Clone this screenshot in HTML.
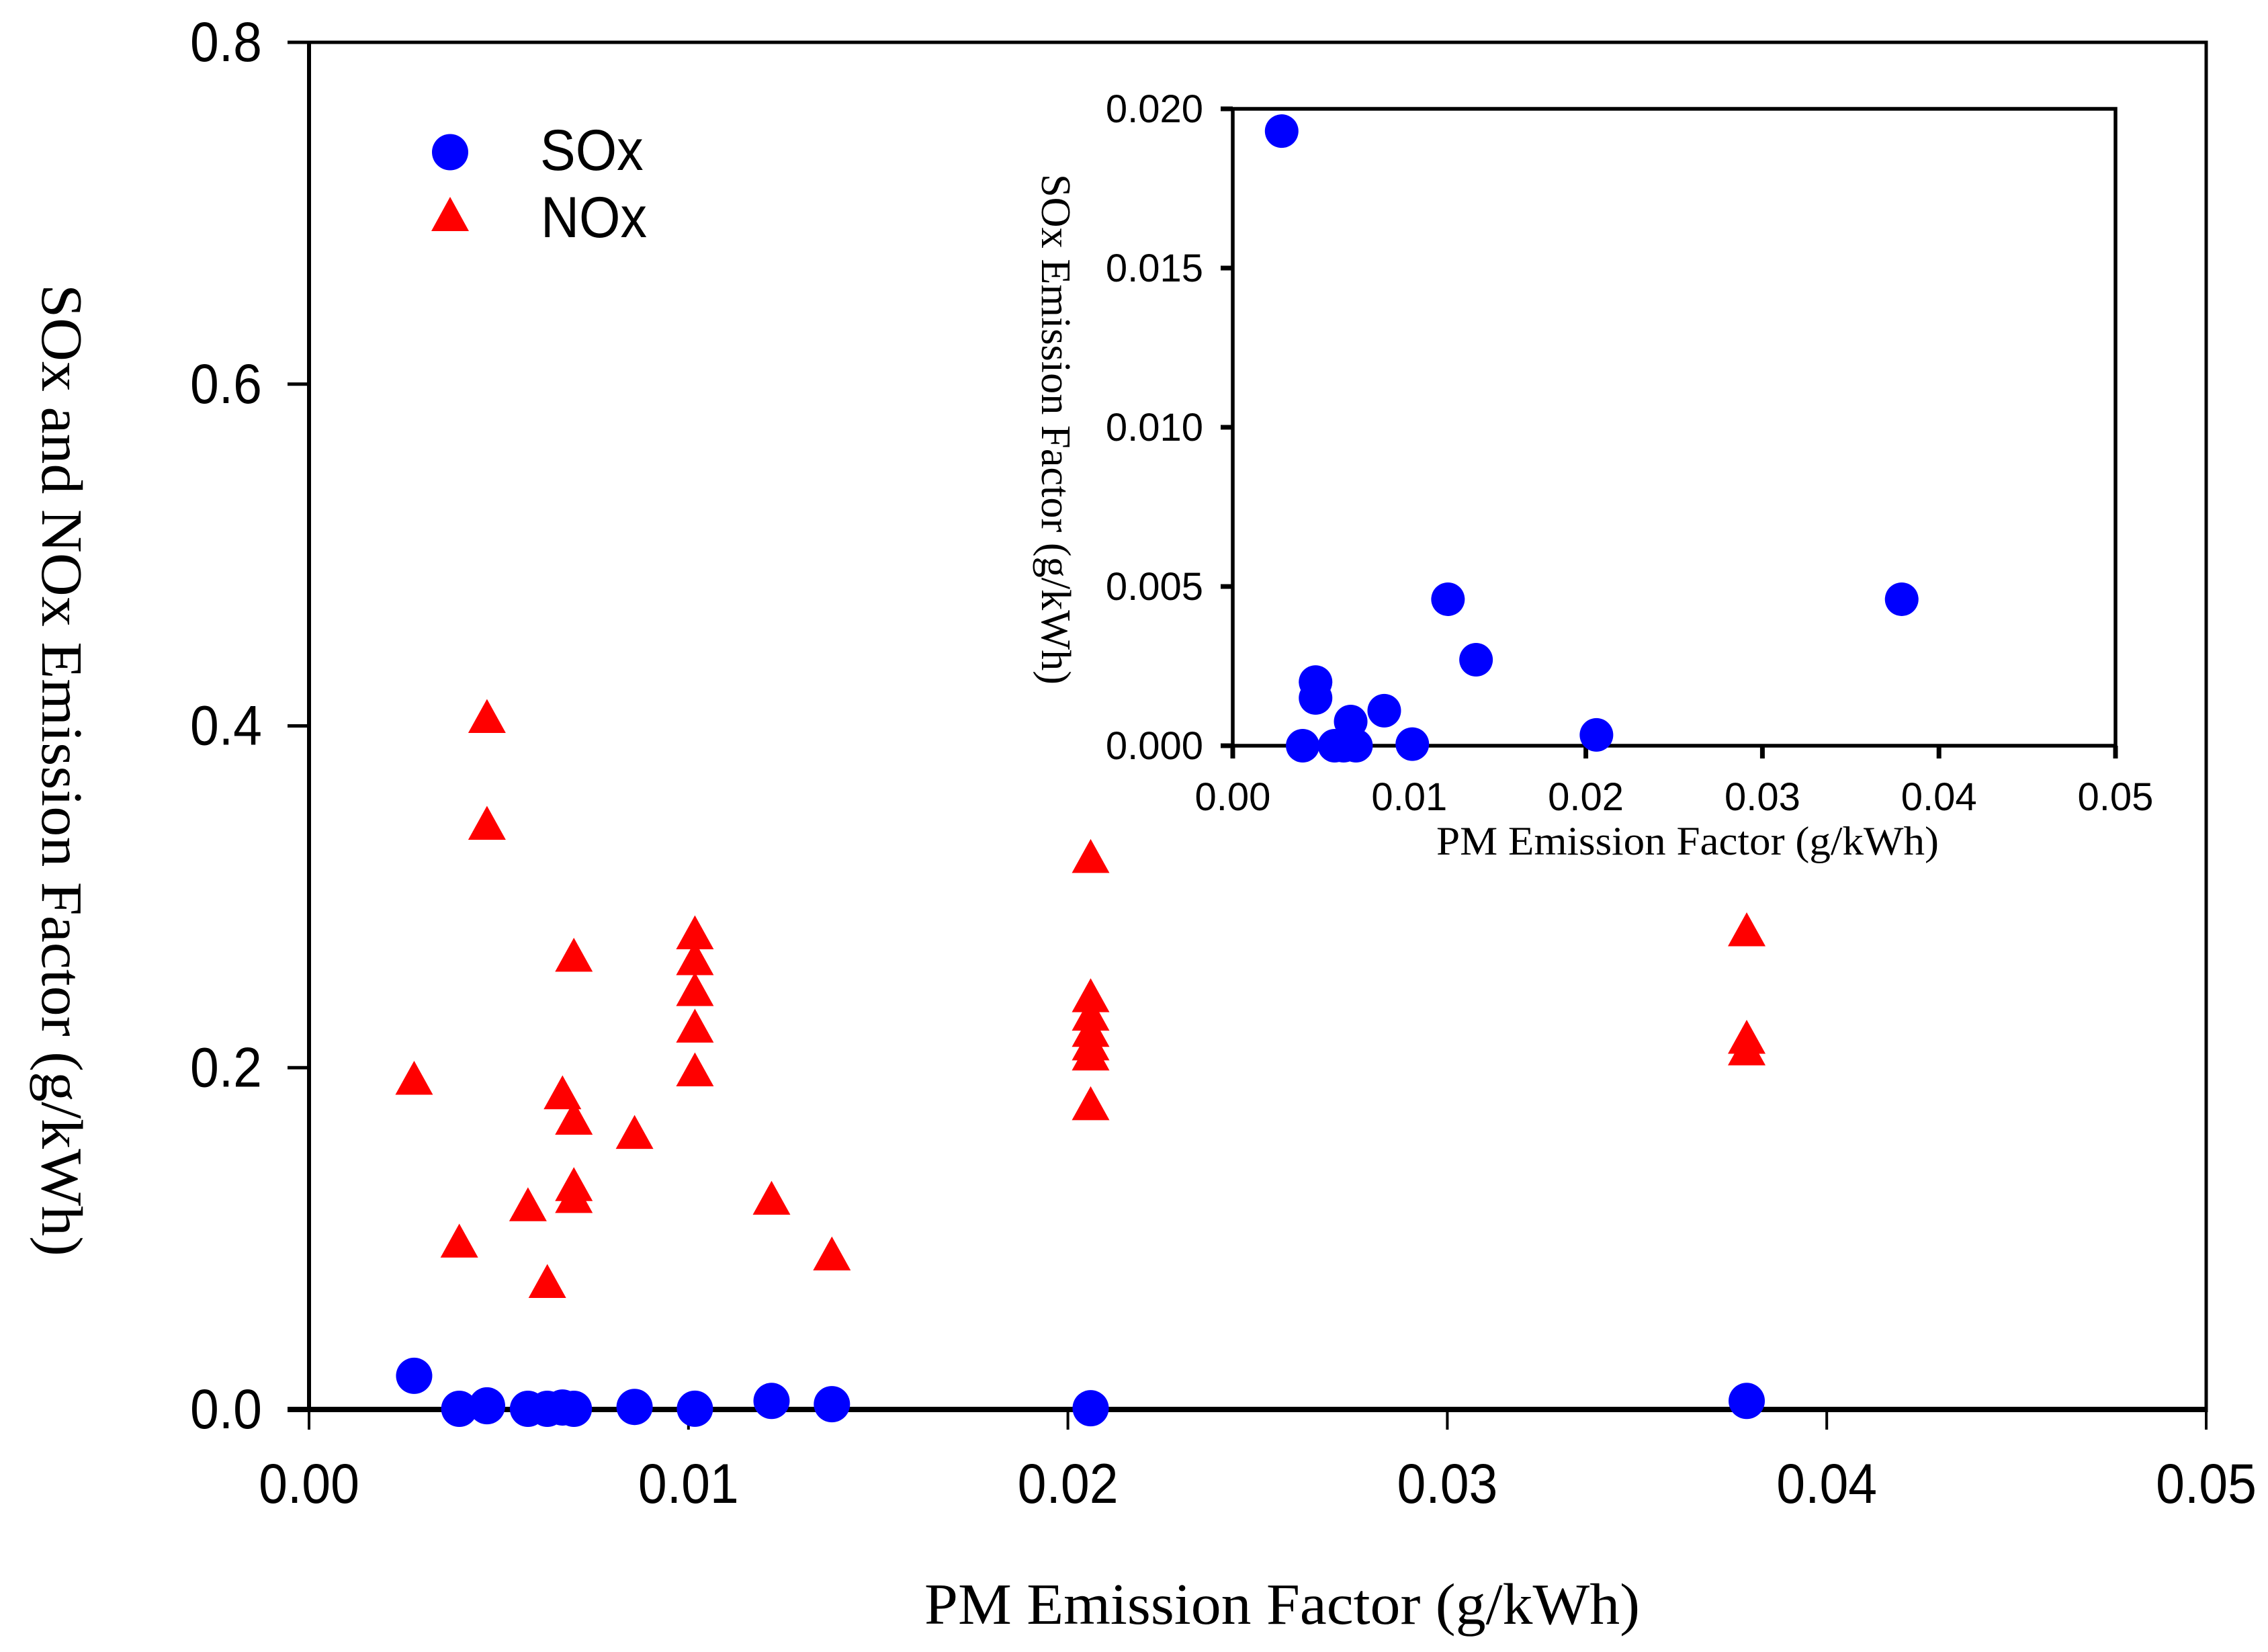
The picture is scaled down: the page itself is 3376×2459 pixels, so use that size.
<!DOCTYPE html>
<html lang="en">
<head>
<meta charset="utf-8">
<title>SOx and NOx vs PM Emission Factor</title>
<style>
html,body{margin:0;padding:0;background:#fff;}
svg{display:block;}
.sans{font-family:"Liberation Sans",Arial,sans-serif;fill:#000;}
.serif{font-family:"Liberation Serif","Times New Roman",serif;fill:#000;}
</style>
</head>
<body>
<svg id="chart" xmlns="http://www.w3.org/2000/svg" width="3376" height="2459" viewBox="0 0 3376 2459">
  <rect x="0" y="0" width="3376" height="2459" fill="#ffffff"/>
  <g id="main-axes"></g>
  <g id="inset-axes"></g>
  <g id="nox-marks"></g>
  <g id="sox-marks"></g>
  <g id="inset-marks"></g>

  <text class="serif" x="1376" y="2417" font-size="87" textLength="1065" lengthAdjust="spacingAndGlyphs">PM Emission Factor (g/kWh)</text>
  <text class="serif" transform="translate(63,423) rotate(90)" font-size="87" textLength="1447" lengthAdjust="spacingAndGlyphs">SOx and NOx Emission Factor (g/kWh)</text>
  <text class="serif" x="2138" y="1272" font-size="60" textLength="748" lengthAdjust="spacingAndGlyphs">PM Emission Factor (g/kWh)</text>
  <text class="serif" transform="translate(1551,259) rotate(90)" font-size="62" textLength="760" lengthAdjust="spacingAndGlyphs">SOx Emission Factor (g/kWh)</text>

  <g>
    <ellipse cx="670" cy="226.5" rx="27" ry="27" fill="#0000ff"/>
    <polygon points="670,293 698,344 642,344" fill="#ff0000"/>
    <text class="sans" transform="translate(804,253) scale(1,1.09)" font-size="79">SOx</text>
    <text class="sans" transform="translate(805,353) scale(1,1.09)" font-size="79">NOx</text>
  </g>
</svg>
<script>
// Main chart axis labels
const mainXTicks = [0.00, 0.01, 0.02, 0.03, 0.04, 0.05];
const mainYTicks = [0.0, 0.2, 0.4, 0.6, 0.8];
// Inset chart axis labels
const insetXTicks = [0.00, 0.01, 0.02, 0.03, 0.04, 0.05];
const insetYTicks = [0.000, 0.005, 0.010, 0.015, 0.020];

// SOx series shared by main chart and inset
const soxPM = [0.00277, 0.00396, 0.00469, 0.00469, 0.00577, 0.00628, 0.00668, 0.00698, 0.00858, 0.01017, 0.01219, 0.01378, 0.0206, 0.03789];
const soxEF = [0.0193, 0.0000, 0.0020, 0.0015, 0.0000, 0.0000, 0.00076, 0.0000, 0.0011, 0.00005, 0.0046, 0.0027, 0.00034, 0.0046];

// NOx series
const noxPM = [0.00277, 0.00396, 0.00469, 0.00469, 0.00577, 0.00628, 0.00668, 0.00698, 0.00698, 0.00698, 0.00698, 0.00858, 0.01017, 0.01017, 0.01017, 0.01017, 0.01017, 0.01219, 0.01378, 0.0206, 0.0206, 0.0206, 0.0206, 0.0206, 0.0206, 0.0206, 0.03789, 0.03789, 0.03789];
const noxEF = [0.1940, 0.0987, 0.4057, 0.3432, 0.1200, 0.0751, 0.1855, 0.2660, 0.1706, 0.1318, 0.1248, 0.1623, 0.2791, 0.2640, 0.2459, 0.2245, 0.1989, 0.1238, 0.0912, 0.3238, 0.2423, 0.2315, 0.2220, 0.2141, 0.2082, 0.1791, 0.2809, 0.2180, 0.2112];

const NS = 'http://www.w3.org/2000/svg';
function make(tag, attrs, parent, text) {
  const el = document.createElementNS(NS, tag);
  for (const k in attrs) el.setAttribute(k, attrs[k]);
  if (text !== undefined) el.textContent = text;
  parent.appendChild(el);
  return el;
}

// Axis functions
const mainX = v => 460 + (v / 0.05) * (3284 - 460);
const mainY = v => 2098 - (v / 0.8) * (2098 - 63);
const insetX = v => 1835 + (v / 0.05) * (3149 - 1835);
const insetY = v => 1110 - (v / 0.02) * (1110 - 162);

const mainAxes = document.getElementById('main-axes');
const insetAxes = document.getElementById('inset-axes');
const noxMarks = document.getElementById('nox-marks');
const soxMarks = document.getElementById('sox-marks');
const insetMarks = document.getElementById('inset-marks');

// Main frame
let line;
line = make('line', {x1: 460, y1: 60.5, x2: 460, y2: 2098, stroke: '#000', 'stroke-width': 6}, mainAxes);


line = make('line', {x1: 3284, y1: 60.5, x2: 3284, y2: 2102, stroke: '#000', 'stroke-width': 5}, mainAxes);


line = make('line', {x1: 428, y1: 63, x2: 3286, y2: 63, stroke: '#000', 'stroke-width': 5}, mainAxes);


line = make('line', {x1: 428, y1: 2098, x2: 3286, y2: 2098, stroke: '#000', 'stroke-width': 8}, mainAxes);



mainXTicks.forEach(v => {
  const t = make('line', {x1: mainX(v), y1: 2098, x2: mainX(v), y2: 2128, stroke: '#000', 'stroke-width': 4}, mainAxes);
  
  
  const l = make('text', {class: 'sans', 'font-size': 77, 'text-anchor': 'middle', transform: 'translate(' + mainX(v) + ',2237) scale(1,1.08)'}, mainAxes, v.toFixed(2));
  
  
});
mainYTicks.forEach(v => {
  const t = make('line', {x1: 428, y1: mainY(v), x2: 460, y2: mainY(v), stroke: '#000', 'stroke-width': 5}, mainAxes);
  
  
  const l = make('text', {class: 'sans', 'font-size': 77, 'text-anchor': 'end', transform: 'translate(390,' + (mainY(v) + 28) + ') scale(1,1.08)'}, mainAxes, v.toFixed(1));
  
  
});

// Inset frame
line = make('rect', {x: 1835, y: 162, width: 1314, height: 948, fill: 'none', stroke: '#000', 'stroke-width': 5.5}, insetAxes);



insetXTicks.forEach(v => {
  const t = make('line', {x1: insetX(v), y1: 1110, x2: insetX(v), y2: 1129, stroke: '#000', 'stroke-width': 7}, insetAxes);
  
  
  const l = make('text', {class: 'sans', 'font-size': 58, 'text-anchor': 'middle', x: insetX(v), y: 1206}, insetAxes, v.toFixed(2));
  
  
});
insetYTicks.forEach(v => {
  const t = make('line', {x1: 1817, y1: insetY(v), x2: 1835, y2: insetY(v), stroke: '#000', 'stroke-width': 7}, insetAxes);
  
  
  const l = make('text', {class: 'sans', 'font-size': 58, 'text-anchor': 'end', x: 1791, y: insetY(v) + 20}, insetAxes, v.toFixed(3));
  
  
});

// NOx triangles on the main chart
noxPM.forEach((pm, i) => {
  const cx = mainX(pm), cy = mainY(noxEF[i]);
  const p = make('polygon', {points: cx + ',' + (cy - 25.5) + ' ' + (cx + 28) + ',' + (cy + 25) + ' ' + (cx - 28) + ',' + (cy + 25), fill: '#ff0000'}, noxMarks);
  
  
});

// SOx circles on the main chart
soxPM.forEach((pm, i) => {
  const c = make('circle', {cx: mainX(pm), cy: mainY(soxEF[i]) - 1, r: 27, fill: '#0000ff'}, soxMarks);
  
  
});

// SOx circles on the inset chart
soxPM.forEach((pm, i) => {
  const c = make('circle', {cx: insetX(pm), cy: insetY(soxEF[i]), r: 25, fill: '#0000ff'}, insetMarks);
  
  
});
</script>
</body>
</html>
